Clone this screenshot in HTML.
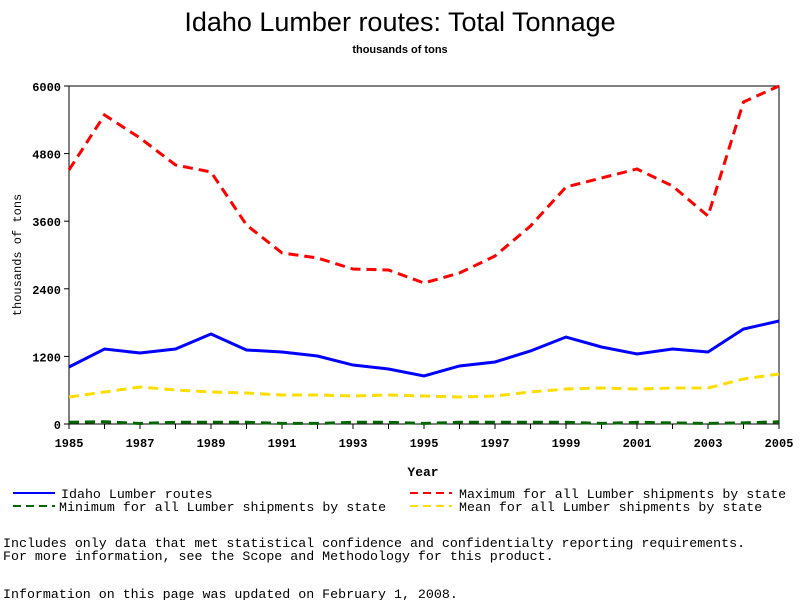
<!DOCTYPE html>
<html><head><meta charset="utf-8"><style>
body{margin:0;background:#fff;width:800px;height:600px;overflow:hidden;font-family:"Liberation Mono",monospace;}
svg text{font-family:"Liberation Mono",monospace;}
</style></head><body>
<svg id="c" width="800" height="600" xmlns="http://www.w3.org/2000/svg">
<text x="400" y="31" text-anchor="middle" font-size="27" style="font-family:'Liberation Sans',sans-serif">Idaho Lumber routes: Total Tonnage</text>
<text x="400" y="53" text-anchor="middle" font-size="11" font-weight="bold" style="font-family:'Liberation Sans',sans-serif">thousands of tons</text>
<rect x="69" y="86" width="710" height="338" fill="none" stroke="#000"/>
<g id="ax"></g>
<g id="ln"></g>
<text x="423" y="476" text-anchor="middle" font-size="13" font-weight="bold">Year</text>
<text transform="translate(21,255) rotate(-90)" text-anchor="middle" font-size="12">thousands of tons</text>
<g font-size="13.3">
<line x1="13" y1="493" x2="55" y2="493" stroke="#00f" stroke-width="2"/>
<text x="61" y="498">Idaho Lumber routes</text>
<line x1="410" y1="493" x2="452" y2="493" stroke="#f00" stroke-width="2" stroke-dasharray="8,5"/>
<text x="459" y="498">Maximum for all Lumber shipments by state</text>
<line x1="13" y1="506" x2="55" y2="506" stroke="#060" stroke-width="2" stroke-dasharray="8,5"/>
<text x="59" y="511">Minimum for all Lumber shipments by state</text>
<line x1="410" y1="506" x2="452" y2="506" stroke="#fd0" stroke-width="2" stroke-dasharray="8,5"/>
<text x="459" y="511">Mean for all Lumber shipments by state</text>
</g>
<text x="3" y="547" font-size="13.3">Includes only data that met statistical confidence and confidentialty reporting requirements.</text>
<text x="3" y="560" font-size="13.3">For more information, see the Scope and Methodology for this product.</text>
<text x="3" y="598" font-size="13.3">Information on this page was updated on February 1, 2008.</text>
</svg>
<script>
const years=[1985,1986,1987,1988,1989,1990,1991,1992,1993,1994,1995,1996,1997,1998,1999,2000,2001,2002,2003,2004,2005];
const idaho=[1012,1331,1260,1331,1598,1314,1278,1207,1047,976,852,1030,1101,1296,1544,1367,1243,1331,1278,1686,1828];
const maxv=[4509,5485,5077,4598,4473,3533,3036,2947,2751,2734,2503,2680,2982,3515,4207,4367,4527,4225,3692,5716,6000];
const meanv=[479,568,657,604,568,550,515,515,497,515,497,479,497,568,621,639,621,639,639,799,888];
const minv=[30,40,10,30,30,30,10,10,30,30,10,30,30,30,30,10,30,20,10,20,40];
const yTicks=[0,1200,2400,3600,4800,6000];
const xTicks=[1985,1987,1989,1991,1993,1995,1997,1999,2001,2003,2005];
const NS="http://www.w3.org/2000/svg";
const X=y=>69+(y-1985)/20*710, Y=v=>424-v/6000*338;
const ax=document.getElementById('ax'), ln=document.getElementById('ln');
function mk(tag,at,p){const e=document.createElementNS(NS,tag);for(const k in at)e.setAttribute(k,at[k]);p.appendChild(e);return e;}
yTicks.forEach(v=>{
 const l=mk('line',{x1:64,x2:69,y1:Y(v),y2:Y(v),stroke:'#000'},ax);
 
 
 const t=mk('text',{x:61,y:Y(v)+5,'text-anchor':'end','font-size':12,'font-weight':'bold'},ax);t.textContent=v;
 
 
});
years.forEach(y=>{
 const l=mk('line',{x1:X(y),x2:X(y),y1:424,y2:429,stroke:'#000'},ax);
 
 
});
xTicks.forEach(y=>{
 const t=mk('text',{x:X(y),y:447,'text-anchor':'middle','font-size':12,'font-weight':'bold'},ax);t.textContent=y;
 
 
});
function series(d,col,dash,name){
 const p=mk('polyline',{points:d.map((v,i)=>X(years[i])+','+Y(v)).join(' '),fill:'none',stroke:col,'stroke-width':3,'stroke-dasharray':dash},ln);
 
 
}
series(minv,'#060','10,6','line-minimum');
series(meanv,'#fd0','10,6','line-mean');
series(maxv,'#f00','10,6','line-maximum');
series(idaho,'#00f','none','line-idaho');
</script>
</body></html>
